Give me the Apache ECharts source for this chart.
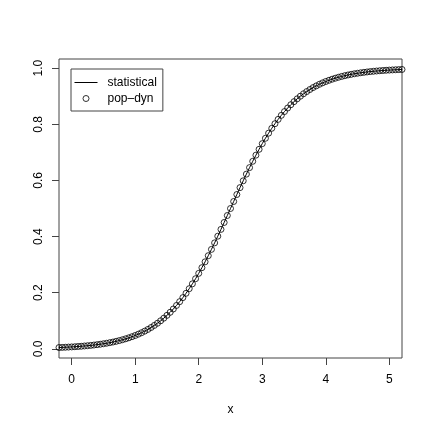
<!DOCTYPE html>
<html>
<head>
<meta charset="utf-8">
<script src="https://cdn.jsdelivr.net/npm/echarts@6/dist/echarts.min.js"></script>
<style>html,body{margin:0;padding:0;background:#fff}#c{width:432px;height:432px}</style>
</head>
<body>
<div id="c"></div>
<script>
var xValues = [-0.2,-0.15,-0.1,-0.05,
  0,0.05,0.1,0.15,0.2,0.25,0.3,0.35,0.4,0.45,0.5,0.55,0.6,0.65,0.7,0.75,0.8,0.85,0.9,0.95,
  1,1.05,1.1,1.15,1.2,1.25,1.3,1.35,1.4,1.45,1.5,1.55,1.6,1.65,1.7,1.75,1.8,1.85,1.9,1.95,
  2,2.05,2.1,2.15,2.2,2.25,2.3,2.35,2.4,2.45,2.5,2.55,2.6,2.65,2.7,2.75,2.8,2.85,2.9,2.95,
  3,3.05,3.1,3.15,3.2,3.25,3.3,3.35,3.4,3.45,3.5,3.55,3.6,3.65,3.7,3.75,3.8,3.85,3.9,3.95,
  4,4.05,4.1,4.15,4.2,4.25,4.3,4.35,4.4,4.45,4.5,4.55,4.6,4.65,4.7,4.75,4.8,4.85,4.9,4.95,5,
  5.05,5.1,5.15,5.2];
var statistical = [0.0045,0.0050,0.0055,0.0061,
  0.0067,0.0074,0.0082,0.0090,0.0100,0.0110,0.0121,0.0134,0.0148,0.0163,
  0.0180,0.0198,0.0219,0.0241,0.0266,0.0293,0.0323,0.0356,0.0392,0.0431,
  0.0474,0.0522,0.0573,0.0630,0.0691,0.0759,0.0832,0.0911,0.0998,0.1091,
  0.1192,0.1301,0.1419,0.1545,0.1680,0.1824,0.1978,0.2142,0.2315,0.2497,
  0.2689,0.2891,0.3100,0.3318,0.3543,0.3775,0.4013,0.4256,0.4502,0.4750,
  0.5000,0.5250,0.5498,0.5744,0.5987,0.6225,0.6457,0.6682,0.6900,0.7109,
  0.7311,0.7503,0.7685,0.7858,0.8022,0.8176,0.8320,0.8455,0.8581,0.8699,
  0.8808,0.8909,0.9002,0.9089,0.9168,0.9241,0.9309,0.9370,0.9427,0.9478,
  0.9526,0.9569,0.9608,0.9644,0.9677,0.9707,0.9734,0.9759,0.9781,0.9802,
  0.9820,0.9837,0.9852,0.9866,0.9879,0.9890,0.9900,0.9910,0.9918,0.9926,0.9933,
  0.9939,0.9945,0.9950,0.9955];
var popDyn = [0.0045,0.0050,0.0055,0.0061,
  0.0067,0.0074,0.0082,0.0090,0.0100,0.0110,0.0121,0.0134,0.0148,0.0163,
  0.0180,0.0198,0.0219,0.0241,0.0266,0.0293,0.0323,0.0356,0.0392,0.0431,
  0.0474,0.0522,0.0573,0.0630,0.0691,0.0759,0.0832,0.0911,0.0998,0.1091,
  0.1192,0.1301,0.1419,0.1545,0.1680,0.1824,0.1978,0.2142,0.2315,0.2497,
  0.2689,0.2891,0.3100,0.3318,0.3543,0.3775,0.4013,0.4256,0.4502,0.4750,
  0.5000,0.5250,0.5498,0.5744,0.5987,0.6225,0.6457,0.6682,0.6900,0.7109,
  0.7311,0.7503,0.7685,0.7858,0.8022,0.8176,0.8320,0.8455,0.8581,0.8699,
  0.8808,0.8909,0.9002,0.9089,0.9168,0.9241,0.9309,0.9370,0.9427,0.9478,
  0.9526,0.9569,0.9608,0.9644,0.9677,0.9707,0.9734,0.9759,0.9781,0.9802,
  0.9820,0.9837,0.9852,0.9866,0.9879,0.9890,0.9900,0.9910,0.9918,0.9926,0.9933,
  0.9939,0.9945,0.9950,0.9955];
var xTicks = [0,1,2,3,4,5];
var yTicks = [0,0.2,0.4,0.6,0.8,1.0];
var seriesNames = ['statistical','pop–dyn'];
var xName = 'x';

function pairs(xs, ys){ return xs.map(function(x,i){ return [x, ys[i]]; }); }

var font = 'Liberation Sans, Arial, Helvetica, sans-serif';
var chart = echarts.init(document.getElementById('c'), null, {renderer:'canvas'});
chart.setOption({
  animation: false,
  backgroundColor: '#fff',
  grid: {left: 59, right: 30, top: 59, bottom: 74, show: true, borderColor: '#444', borderWidth: 1, backgroundColor: 'transparent'},
  xAxis: {
    type: 'value', min: -0.2, max: 5.2, position: 'bottom',
    name: xName, nameLocation: 'middle', nameGap: 46,
    nameTextStyle: {fontFamily: font, fontSize: 12, color: '#000'},
    axisLine: {show: false, onZero: false},
    splitLine: {show: false},
    axisTick: {show: true, length: 7, inside: false, customValues: xTicks, lineStyle: {color: '#444', width: 1}},
    axisLabel: {show: true, margin: 16, customValues: xTicks, fontFamily: font, fontSize: 12, color: '#000',
      formatter: function(v){ return String(v); }}
  },
  yAxis: {
    type: 'value', min: -0.0328, max: 1.0328, position: 'left',
    axisLine: {show: false, onZero: false},
    splitLine: {show: false},
    axisTick: {show: true, length: 7, inside: false, customValues: yTicks, lineStyle: {color: '#444', width: 1}},
    axisLabel: {show: true, margin: 14, rotate: 90, customValues: yTicks, fontFamily: font, fontSize: 12, color: '#000',
      formatter: function(v){ return v.toFixed(1); }}
  },
  legend: {
    left: 71, top: 69, orient: 'vertical',
    borderColor: '#444', borderWidth: 1, borderRadius: 0, backgroundColor: '#fff',
    padding: [7, 6, 6, 3], itemGap: 3, itemWidth: 23, itemHeight: 12,
    textStyle: {fontFamily: font, fontSize: 12, color: '#000', padding: [0,0,0,5]},
    data: [
      {name: seriesNames[0], icon: 'path://M0,6 L23,6 M0,0 M23,12', itemStyle: {color: 'transparent', borderColor: '#000', borderWidth: 1}},
      {name: seriesNames[1], icon: 'path://M14.5,6 A3,3 0 1 1 8.5,6 A3,3 0 1 1 14.5,6 Z M0,0 M23,12', itemStyle: {color: 'transparent', borderColor: '#000', borderWidth: 1}}
    ]
  },
  series: [
    {name: seriesNames[0], type: 'line', data: pairs(xValues, statistical), symbol: 'none', showSymbol: false,
      clip: true, lineStyle: {color: '#000', width: 1}, itemStyle: {color: '#000'}, z: 2},
    {name: seriesNames[1], type: 'scatter', data: pairs(xValues, popDyn), symbol: 'circle', symbolSize: 6,
      clip: true, itemStyle: {color: 'transparent', borderColor: '#000', borderWidth: 1}, z: 3}
  ]
});
</script>
</body>
</html>
